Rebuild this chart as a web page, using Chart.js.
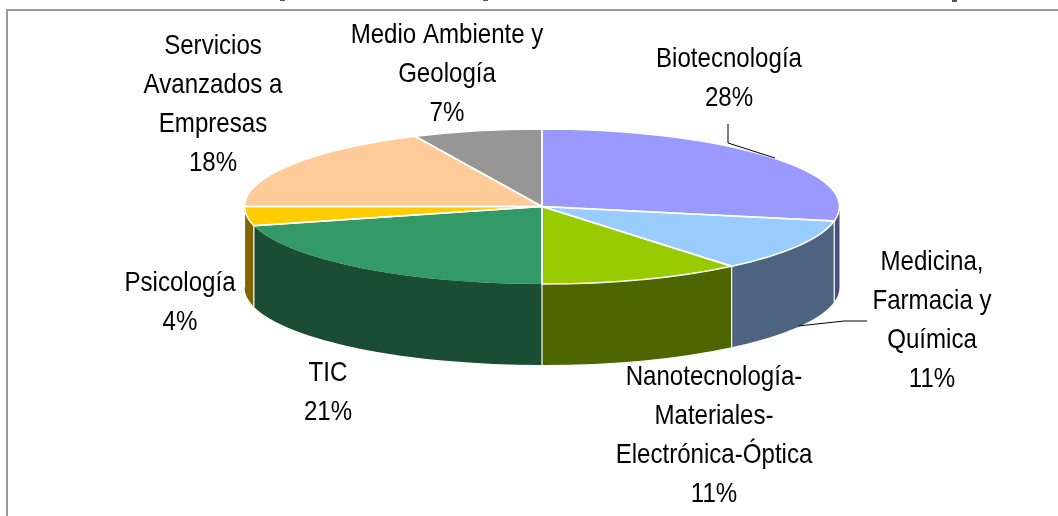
<!DOCTYPE html>
<html>
<head>
<meta charset="utf-8">
<title>Áreas</title>
<script src="https://cdn.jsdelivr.net/npm/chart.js@4/dist/chart.umd.min.js"></script>
<style>
  html, body { margin: 0; padding: 0; background: #fff; overflow: hidden; }
  canvas { display: block; }
</style>
</head>
<body>
<canvas id="pie3d" width="1058" height="516"></canvas>
<script>
const categories = [
  "Biotecnología",
  "Medicina, Farmacia y Química",
  "Nanotecnología-Materiales-Electrónica-Óptica",
  "TIC",
  "Psicología",
  "Servicios Avanzados a Empresas",
  "Medio Ambiente y Geología"
];
const shares = [28, 11, 11, 21, 4, 18, 7];
const labelLines = [
  ["Biotecnología"],
  ["Medicina,", "Farmacia y", "Química"],
  ["Nanotecnología-", "Materiales-", "Electrónica-Óptica"],
  ["TIC"],
  ["Psicología"],
  ["Servicios", "Avanzados a", "Empresas"],
  ["Medio Ambiente y", "Geología"]
];
const topColors = ["#9999FF", "#99CCFF", "#99CC00", "#339966", "#FFCC00", "#FFCC99", "#969696"];
const wallColors = ["#4D4D80", "#4D6380", "#4D6600", "#1A4D33", "#806600", "#806633", "#4B4B4B"];

// where the label blocks sit: centre x, centre y of first line
const labelSpots = [
  [729, 59], [932, 262], [714, 377], [328, 373], [180, 283], [213, 46], [447, 35]
];
const lineGap = 39;

// the tilted disc on the page
const disc = { x: 542, y: 206.5, rx: 297.5, ry: 77.5, depth: 81 };

function tilt(ctx, arc) {
  ctx.translate(disc.x, disc.y);
  ctx.scale(disc.rx / arc.outerRadius, disc.ry / arc.outerRadius);
  ctx.translate(-arc.x, -arc.y);
}

const pie3d = {
  id: "pie3d",
  beforeDraw(chart) {
    const ctx = chart.ctx;
    ctx.save();
    ctx.strokeStyle = "#999999";
    ctx.lineWidth = 2;
    ctx.beginPath();
    ctx.moveTo(7, 516);
    ctx.lineTo(7, 10);
    ctx.lineTo(1058, 10);
    ctx.stroke();
    // descenders of the cropped line above the frame
    ctx.fillStyle = "#555";
    ctx.fillRect(280, 0, 5, 1);
    ctx.fillRect(483, 0, 5, 1);
    ctx.fillRect(952, 0, 5, 2);
    ctx.restore();
  },
  beforeDatasetsDraw(chart) {
    const ctx = chart.ctx;
    const arcs = chart.getDatasetMeta(0).data;
    const sy = disc.ry / arcs[0].outerRadius;

    // side walls, only the front half of the disc shows them
    arcs.forEach((arc, i) => {
      const a0 = Math.max(arc.startAngle, 0);
      const a1 = Math.min(arc.endAngle, Math.PI);
      if (a1 <= a0) return;
      ctx.save();
      tilt(ctx, arc);
      ctx.beginPath();
      ctx.arc(arc.x, arc.y, arc.outerRadius, a0, a1);
      ctx.arc(arc.x, arc.y + disc.depth / sy, arc.outerRadius, a1, a0, true);
      ctx.closePath();
      ctx.restore();
      ctx.fillStyle = wallColors[i];
      ctx.fill();
    });

    // white seams between the walls
    arcs.forEach((arc) => {
      const a = arc.endAngle;
      if (a <= 0 || a >= Math.PI) return;
      const px = disc.x + disc.rx * Math.cos(a);
      const py = disc.y + disc.ry * Math.sin(a);
      ctx.save();
      ctx.strokeStyle = "#fff";
      ctx.lineWidth = 1.2;
      ctx.beginPath();
      ctx.moveTo(px, py);
      ctx.lineTo(px, py + disc.depth);
      ctx.stroke();
      ctx.restore();
    });

    ctx.save();
    tilt(ctx, arcs[0]);
  },
  afterDatasetsDraw(chart) {
    const ctx = chart.ctx;
    const arcs = chart.getDatasetMeta(0).data;
    ctx.restore();

    arcs.forEach((arc, i) => {
      ctx.save();
      ctx.save();
      tilt(ctx, arc);
      ctx.beginPath();
      ctx.moveTo(arc.x, arc.y);
      ctx.lineTo(arc.x + arc.outerRadius * Math.cos(arc.startAngle), arc.y + arc.outerRadius * Math.sin(arc.startAngle));
      if (categories[i] !== "TIC") {
        ctx.arc(arc.x, arc.y, arc.outerRadius, arc.startAngle, arc.endAngle);
      } else {
        ctx.moveTo(arc.x + arc.outerRadius * Math.cos(arc.endAngle), arc.y + arc.outerRadius * Math.sin(arc.endAngle));
      }
      ctx.lineTo(arc.x, arc.y);
      ctx.restore();
      ctx.strokeStyle = "#fff";
      ctx.lineWidth = 1.5;
      ctx.stroke();
      ctx.restore();
    });

    // leader lines
    ctx.save();
    ctx.strokeStyle = "#000";
    ctx.lineWidth = 1;
    ctx.beginPath();
    ctx.moveTo(728, 124);
    ctx.lineTo(728, 143);
    ctx.lineTo(775, 158);
    ctx.moveTo(798, 326);
    ctx.lineTo(844, 321);
    ctx.lineTo(867, 321);
    ctx.stroke();
    ctx.restore();

    // labels, the source font is a tall narrow Arial so squeeze Liberation Sans
    ctx.fillStyle = "#000";
    ctx.font = '28px "Liberation Sans", Arial, sans-serif';
    ctx.textAlign = "center";
    ctx.textBaseline = "middle";
    labelLines.forEach((lines, i) => {
      const [lx, ly] = labelSpots[i];
      lines.concat(shares[i] + "%").forEach((txt, n) => {
        ctx.save();
        ctx.translate(lx, ly + n * lineGap);
        ctx.scale(0.86, 1);
        ctx.fillText(txt, 0, 0);
        ctx.restore();
      });
    });
  }
};

new Chart(document.getElementById("pie3d"), {
  type: "pie",
  data: {
    labels: categories,
    datasets: [{
      data: shares,
      backgroundColor: topColors,
      borderWidth: 0,
      clip: false
    }]
  },
  options: {
    responsive: false,
    animation: false,
    events: [],
    radius: 200,
    plugins: {
      legend: { display: false },
      tooltip: { enabled: false }
    }
  },
  plugins: [pie3d]
});
</script>
</body>
</html>
